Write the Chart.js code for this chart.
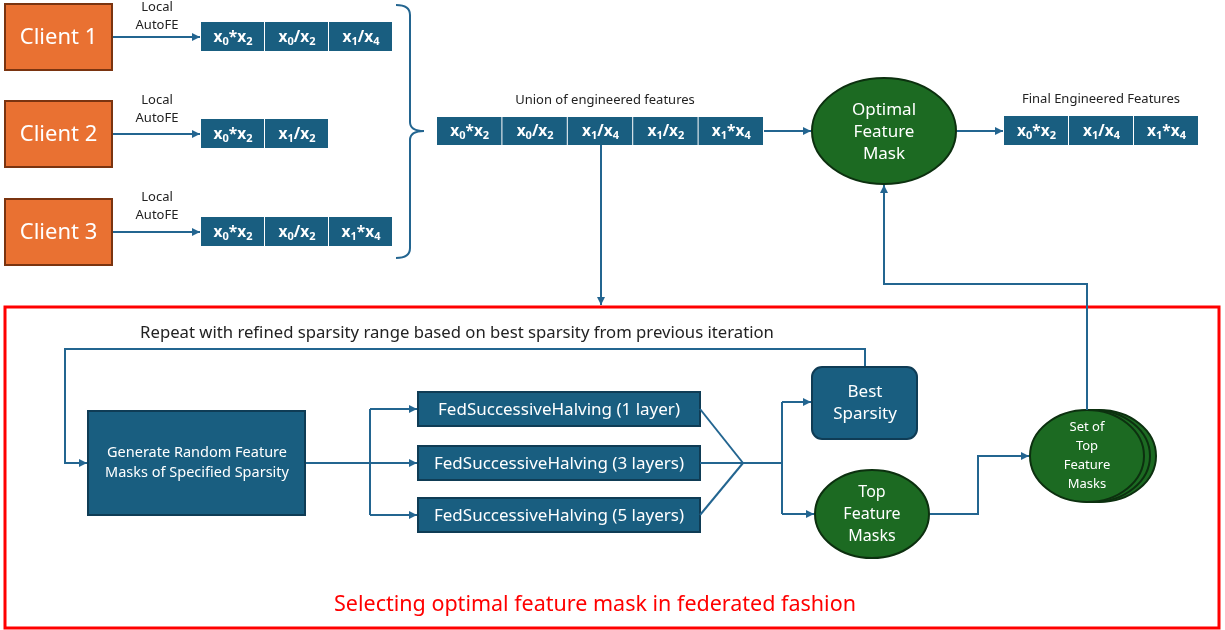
<!DOCTYPE html>
<html><head><meta charset="utf-8">
<script src="https://cdn.jsdelivr.net/npm/chart.js@4.4.1/dist/chart.umd.min.js"></script>
<style>html,body{margin:0;padding:0;background:#fff;}canvas{display:block;}</style>
</head><body>
<canvas id="c" width="1225" height="630"></canvas>
<script>
// ---- data ----
const clients = ['Client 1', 'Client 2', 'Client 3'];
const localStepLabel = ['Local', 'AutoFE'];
const clientFeatures = [
  ['x0*x2', 'x0/x2', 'x1/x4'],
  ['x0*x2', 'x1/x2'],
  ['x0*x2', 'x0/x2', 'x1*x4']
];
const unionTitle = 'Union of engineered features';
const unionFeatures = ['x0*x2', 'x0/x2', 'x1/x4', 'x1/x2', 'x1*x4'];
const optimalLabel = ['Optimal', 'Feature', 'Mask'];
const finalTitle = 'Final Engineered Features';
const finalFeatures = ['x0*x2', 'x1/x4', 'x1*x4'];
const repeatText = 'Repeat with refined sparsity range based on best sparsity from previous iteration';
const generateLabel = ['Generate Random Feature', 'Masks of Specified Sparsity'];
const fshLabels = ['FedSuccessiveHalving (1 layer)', 'FedSuccessiveHalving (3 layers)', 'FedSuccessiveHalving (5 layers)'];
const bestLabel = ['Best', 'Sparsity'];
const topLabel = ['Top', 'Feature', 'Masks'];
const setLabel = ['Set of', 'Top', 'Feature', 'Masks'];
const frameTitle = 'Selecting optimal feature mask in federated fashion';

// ---- drawing ----
const BLUE = '#195e80', BLUE_B = '#0f3c55', GREEN = '#1c6a22', GREEN_B = '#0c300f';
const ORANGE = '#e97132', ORANGE_B = '#7a3410', LINE = '#236590', FONT = '"Noto Sans", sans-serif';

const diagram = {
  id: 'diagram',
  afterDatasetsDraw(chart) {
    const c = chart.ctx, xs = chart.scales.x, ys = chart.scales.y;
    const X = v => xs.getPixelForValue(v), Y = v => ys.getPixelForValue(v);
    c.save();
    c.textAlign = 'center'; c.textBaseline = 'middle';

    function rect(x0, y0, x1, y1, fill, stroke, lw, r) {
      c.beginPath();
      if (r) c.roundRect(X(x0), Y(y0), X(x1) - X(x0), Y(y1) - Y(y0), r);
      else c.rect(X(x0), Y(y0), X(x1) - X(x0), Y(y1) - Y(y0));
      if (fill) { c.fillStyle = fill; c.fill(); }
      if (stroke) { c.strokeStyle = stroke; c.lineWidth = lw; c.stroke(); }
    }
    function ell(cx, cy, rx, ry, fill, stroke, lw) {
      c.beginPath();
      c.ellipse(X(cx), Y(cy), X(cx + rx) - X(cx), Y(cy + ry) - Y(cy), 0, 0, Math.PI * 2);
      c.fillStyle = fill; c.fill();
      c.strokeStyle = stroke; c.lineWidth = lw; c.stroke();
    }
    function poly(pts, arrow) {
      c.beginPath();
      c.strokeStyle = LINE; c.lineWidth = 2;
      pts.forEach((p, i) => i ? c.lineTo(X(p[0]), Y(p[1])) : c.moveTo(X(p[0]), Y(p[1])));
      c.stroke();
      if (arrow) {
        const a = pts[pts.length - 2], b = pts[pts.length - 1];
        const ang = Math.atan2(Y(b[1]) - Y(a[1]), X(b[0]) - X(a[0]));
        const L = 8, W = 4;
        const bx = X(b[0]), by = Y(b[1]);
        c.beginPath();
        c.moveTo(bx, by);
        c.lineTo(bx - L * Math.cos(ang) + W * Math.sin(ang), by - L * Math.sin(ang) - W * Math.cos(ang));
        c.lineTo(bx - L * Math.cos(ang) - W * Math.sin(ang), by - L * Math.sin(ang) + W * Math.cos(ang));
        c.closePath(); c.fillStyle = LINE; c.fill();
      }
    }
    function text(lines, cx, cy, size, color, lh, weight) {
      c.fillStyle = color; c.font = (weight || '') + ' ' + size + 'px ' + FONT;
      const n = lines.length;
      lines.forEach((t, i) => c.fillText(t, X(cx), Y(cy + (i - (n - 1) / 2) * lh)));
    }
    function featText(s, cx, cy) {
      const parts = [];
      for (let i = 0; i < s.length; i++) {
        const ch = s[i];
        if (/\d/.test(ch) && i > 0 && s[i - 1] === 'x') parts.push([ch, true]);
        else parts.push([ch, false]);
      }
      const big = 'bold 15.5px ' + FONT, small = 'bold 11px ' + FONT;
      let w = 0;
      parts.forEach(p => { c.font = p[1] ? small : big; w += c.measureText(p[0]).width; });
      let x = X(cx) - w / 2;
      c.textAlign = 'left'; c.fillStyle = '#fff';
      parts.forEach(p => {
        c.font = p[1] ? small : big;
        c.fillText(p[0], x, Y(cy) + (p[1] ? 4 : 0));
        x += c.measureText(p[0]).width;
      });
      c.textAlign = 'center';
    }
    function featRow(list, x0, y0, cw, h) {
      list.forEach((f, i) => {
        const a = x0 + i * cw;
        rect(a, y0, a + cw - 1, y0 + h, BLUE, null);
        featText(f, a + cw / 2, y0 + h / 2 + 1);
      });
    }

    // Clients
    const cy = [37, 134, 232];
    const ly = [16, 109, 206];
    clients.forEach((name, i) => {
      rect(5, cy[i] - 33, 112, cy[i] + 33, ORANGE, ORANGE_B, 2);
      text([name], 58.5, cy[i] + 1, 22, '#fff', 0);
      text(localStepLabel, 157, ly[i], 13, '#222', 18);
      poly([[113, cy[i]], [200, cy[i]]], true);
      featRow(clientFeatures[i], 201, cy[i] - 15, 64, 29);
    });

    // brace
    c.beginPath(); c.strokeStyle = LINE; c.lineWidth = 2;
    c.moveTo(X(396), Y(5)); c.quadraticCurveTo(X(410), Y(5), X(410), Y(15));
    c.lineTo(X(410), Y(122)); c.quadraticCurveTo(X(410), Y(131), X(424), Y(131));
    c.quadraticCurveTo(X(410), Y(131), X(410), Y(140));
    c.lineTo(X(410), Y(248)); c.quadraticCurveTo(X(410), Y(258), X(396), Y(258));
    c.stroke();

    // union
    text([unionTitle], 605, 100, 13, '#222', 0);
    featRow(unionFeatures, 437, 117, 65.4, 28);
    poly([[764, 131], [811, 131]], true);

    // optimal mask
    ell(884, 131, 72, 53, GREEN, GREEN_B, 2);
    text(optimalLabel, 884, 132, 17, '#fff', 22);
    poly([[957, 131], [1003, 131]], true);
    text([finalTitle], 1101, 99, 13, '#222', 0);
    featRow(finalFeatures, 1004, 116, 65, 29);

    // down arrow from union
    poly([[601, 145], [601, 305]], true);

    // red frame
    rect(5, 307, 1219, 628, null, '#ff0000', 3);
    text([frameTitle], 595, 605, 21.5, '#ff0000', 0);
    text([repeatText], 457, 333, 16.7, '#222', 0);

    // loop
    poly([[865, 366], [865, 349], [65, 349], [65, 463], [87, 463]], true);

    // generate
    rect(88, 411, 305, 515, BLUE, BLUE_B, 2);
    text(generateLabel, 197, 463, 14.5, '#fff', 20);

    // fan-out
    const fy = [409, 463, 515];
    poly([[306, 463], [370, 463]], false);
    poly([[370, 409], [370, 515]], false);
    fy.forEach((y, i) => {
      poly([[370, y], [417, y]], true);
      rect(418, y - 17, 700, y + 17, BLUE, BLUE_B, 2);
      text([fshLabels[i]], 559, y + 1, 17, '#fff', 0);
      poly([[700, y], [743, 463]], false);
    });
    poly([[743, 463], [782, 463]], false);
    poly([[782, 402], [782, 514]], false);
    poly([[782, 402], [811, 402]], true);
    poly([[782, 514], [814, 514]], true);

    // best sparsity
    rect(812, 367, 917, 439, BLUE, BLUE_B, 2, 10);
    text(bestLabel, 865, 403, 17, '#fff', 22);

    // top feature masks
    ell(872, 514, 57, 44, GREEN, GREEN_B, 2);
    text(topLabel, 872, 514, 16, '#fff', 22);
    poly([[930, 514], [978, 514], [978, 456], [1029, 456]], true);

    // stacked set
    ell(1099, 456, 57, 46, GREEN, GREEN_B, 2);
    ell(1093, 456, 57, 46, GREEN, GREEN_B, 2);
    ell(1087, 456, 57, 46, GREEN, GREEN_B, 2);
    text(setLabel, 1087, 456, 13, '#fff', 19);

    // back to optimal
    poly([[1087, 410], [1087, 284], [884, 284], [884, 185]], true);

    c.restore();
  }
};

new Chart(document.getElementById('c'), {
  type: 'scatter',
  data: { datasets: [{ data: [], pointRadius: 0 }] },
  options: {
    responsive: false, animation: false,
    layout: { padding: 0 },
    plugins: { legend: { display: false }, tooltip: { enabled: false } },
    scales: {
      x: { type: 'linear', min: 0, max: 1225, display: false },
      y: { type: 'linear', min: 0, max: 630, reverse: true, display: false }
    }
  },
  plugins: [diagram]
});
</script>
</body></html>
